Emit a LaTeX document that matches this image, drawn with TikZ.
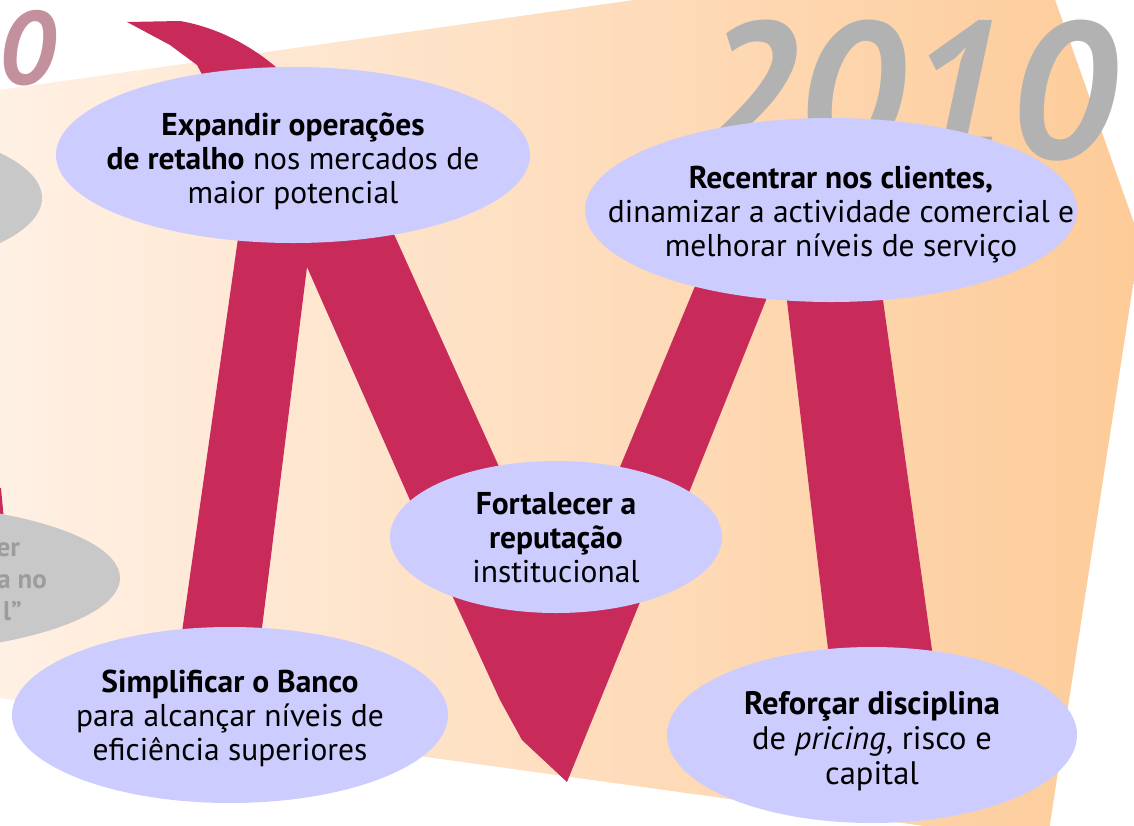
\documentclass[tikz,border=0pt]{standalone}
\usepackage{fontspec}
\setmainfont{PT Sans}
\usetikzlibrary{shapes.geometric}
\definecolor{bandred}{HTML}{C82A5A}
\definecolor{ovalblue}{HTML}{CCCCFF}
\definecolor{pastgrey}{HTML}{C8C8C8}
\definecolor{pasttext}{HTML}{9C9C9C}
\definecolor{yeargrey}{HTML}{B2B2B2}
\definecolor{yearrose}{HTML}{C3909E}
\definecolor{sandlight}{HTML}{FFF2E8}
\definecolor{sanddark}{HTML}{FDCB98}
\tikzset{
    every node/.style={font=\fontsize{31.5}{34}\selectfont},
    goal/.style={ellipse,fill=ovalblue,inner sep=0pt,outer sep=0pt},
    goaltext/.style={align=center,inner sep=0pt},
    pastgoal/.style={ellipse,fill=pastgrey,inner sep=0pt},
    pastnote/.style={align=right,text=pasttext,inner sep=0pt,font=\fontsize{27}{32}\selectfont\bfseries},
    band/.style={fill=bandred},
    yearmark/.style={inner sep=0pt,text=yeargrey,font=\fontsize{194}{194}\selectfont\bfseries\itshape}
}
\begin{document}
\begin{tikzpicture}[x=1pt,y=-1pt]
\useasboundingbox (0,0) rectangle (1134,825);
\clip (0,0) rectangle (1134,825);
\shade[left color=sandlight,right color=sanddark] (-50,97) -- (1035,-57) -- (1140,240) -- (1047,843) -- (-50,691) -- cycle;

\node[yearmark,anchor=base west] (year) at (692,158) {2010};
\node[yearmark,text=yearrose,font=\fontsize{104}{104}\selectfont\bfseries\itshape,anchor=base east] (oldyear) at (55,84) {0};

\node[pastgoal,minimum width=420pt,minimum height=150pt] (pastA) at (-168,198) {};
\fill[band] (-20,488) -- (1,488) -- (4,520) -- (-20,520) -- cycle;
\node[pastgoal,minimum width=512pt,minimum height=152pt] (pastB) at (-136,578) {};
\node[pastnote,anchor=east] (pastBnote) at (47,582) {er\hspace*{27pt}\\a no\\l”\hspace*{25pt}};

\fill[band] (127,22) -- (180,21) .. controls (215,27) and (255,45) .. (290,80) -- (205,80) -- (197,65) -- (170,45) -- cycle;
\fill[band] (252,140) -- (178,660) -- (258,660) -- (307,267) -- (451,593) -- (500,700) -- (522,740) -- (567,782) -- (653,570) -- (505,480) -- (356,150) -- cycle;
\fill[band] (710,250) -- (598,520) -- (678,520) -- (786,250) -- cycle;
\fill[band] (781,250) -- (834,700) -- (939,700) -- (876,250) -- cycle;

\node[goal,minimum width=474pt,minimum height=176pt,
    label={[goaltext,yshift=-6pt]center:{\textbf{Expandir operações}\\\textbf{de retalho} nos mercados de\\maior potencial}}] (expand) at (293,155) {};
\node[goal,minimum width=492pt,minimum height=184pt,
    label={[goaltext,xshift=10pt,yshift=-5pt]center:{\textbf{Recentrar nos clientes,}\\dinamizar a actividade comercial e\\melhorar níveis de serviço}}] (recentre) at (831,210) {};
\node[goal,minimum width=332pt,minimum height=152pt,
    label={[goaltext,yshift=-1pt]center:{\textbf{Fortalecer a}\\\textbf{reputação}\\institucional}}] (fortify) at (556,537) {};
\node[goal,minimum width=436pt,minimum height=176pt,
    label={[goaltext,yshift=-3pt]center:{\textbf{Simplificar o Banco}\\para alcançar níveis de\\eficiência superiores}}] (simplify) at (230,715) {};
\node[goal,minimum width=410pt,minimum height=176pt,
    label={[goaltext,yshift=-6pt,font=\fontsize{32.5}{35}\selectfont]center:{\textbf{Reforçar disciplina}\\de \textit{pricing}, risco e\\capital}}] (reinforce) at (872,735) {};
\end{tikzpicture}
\end{document}
